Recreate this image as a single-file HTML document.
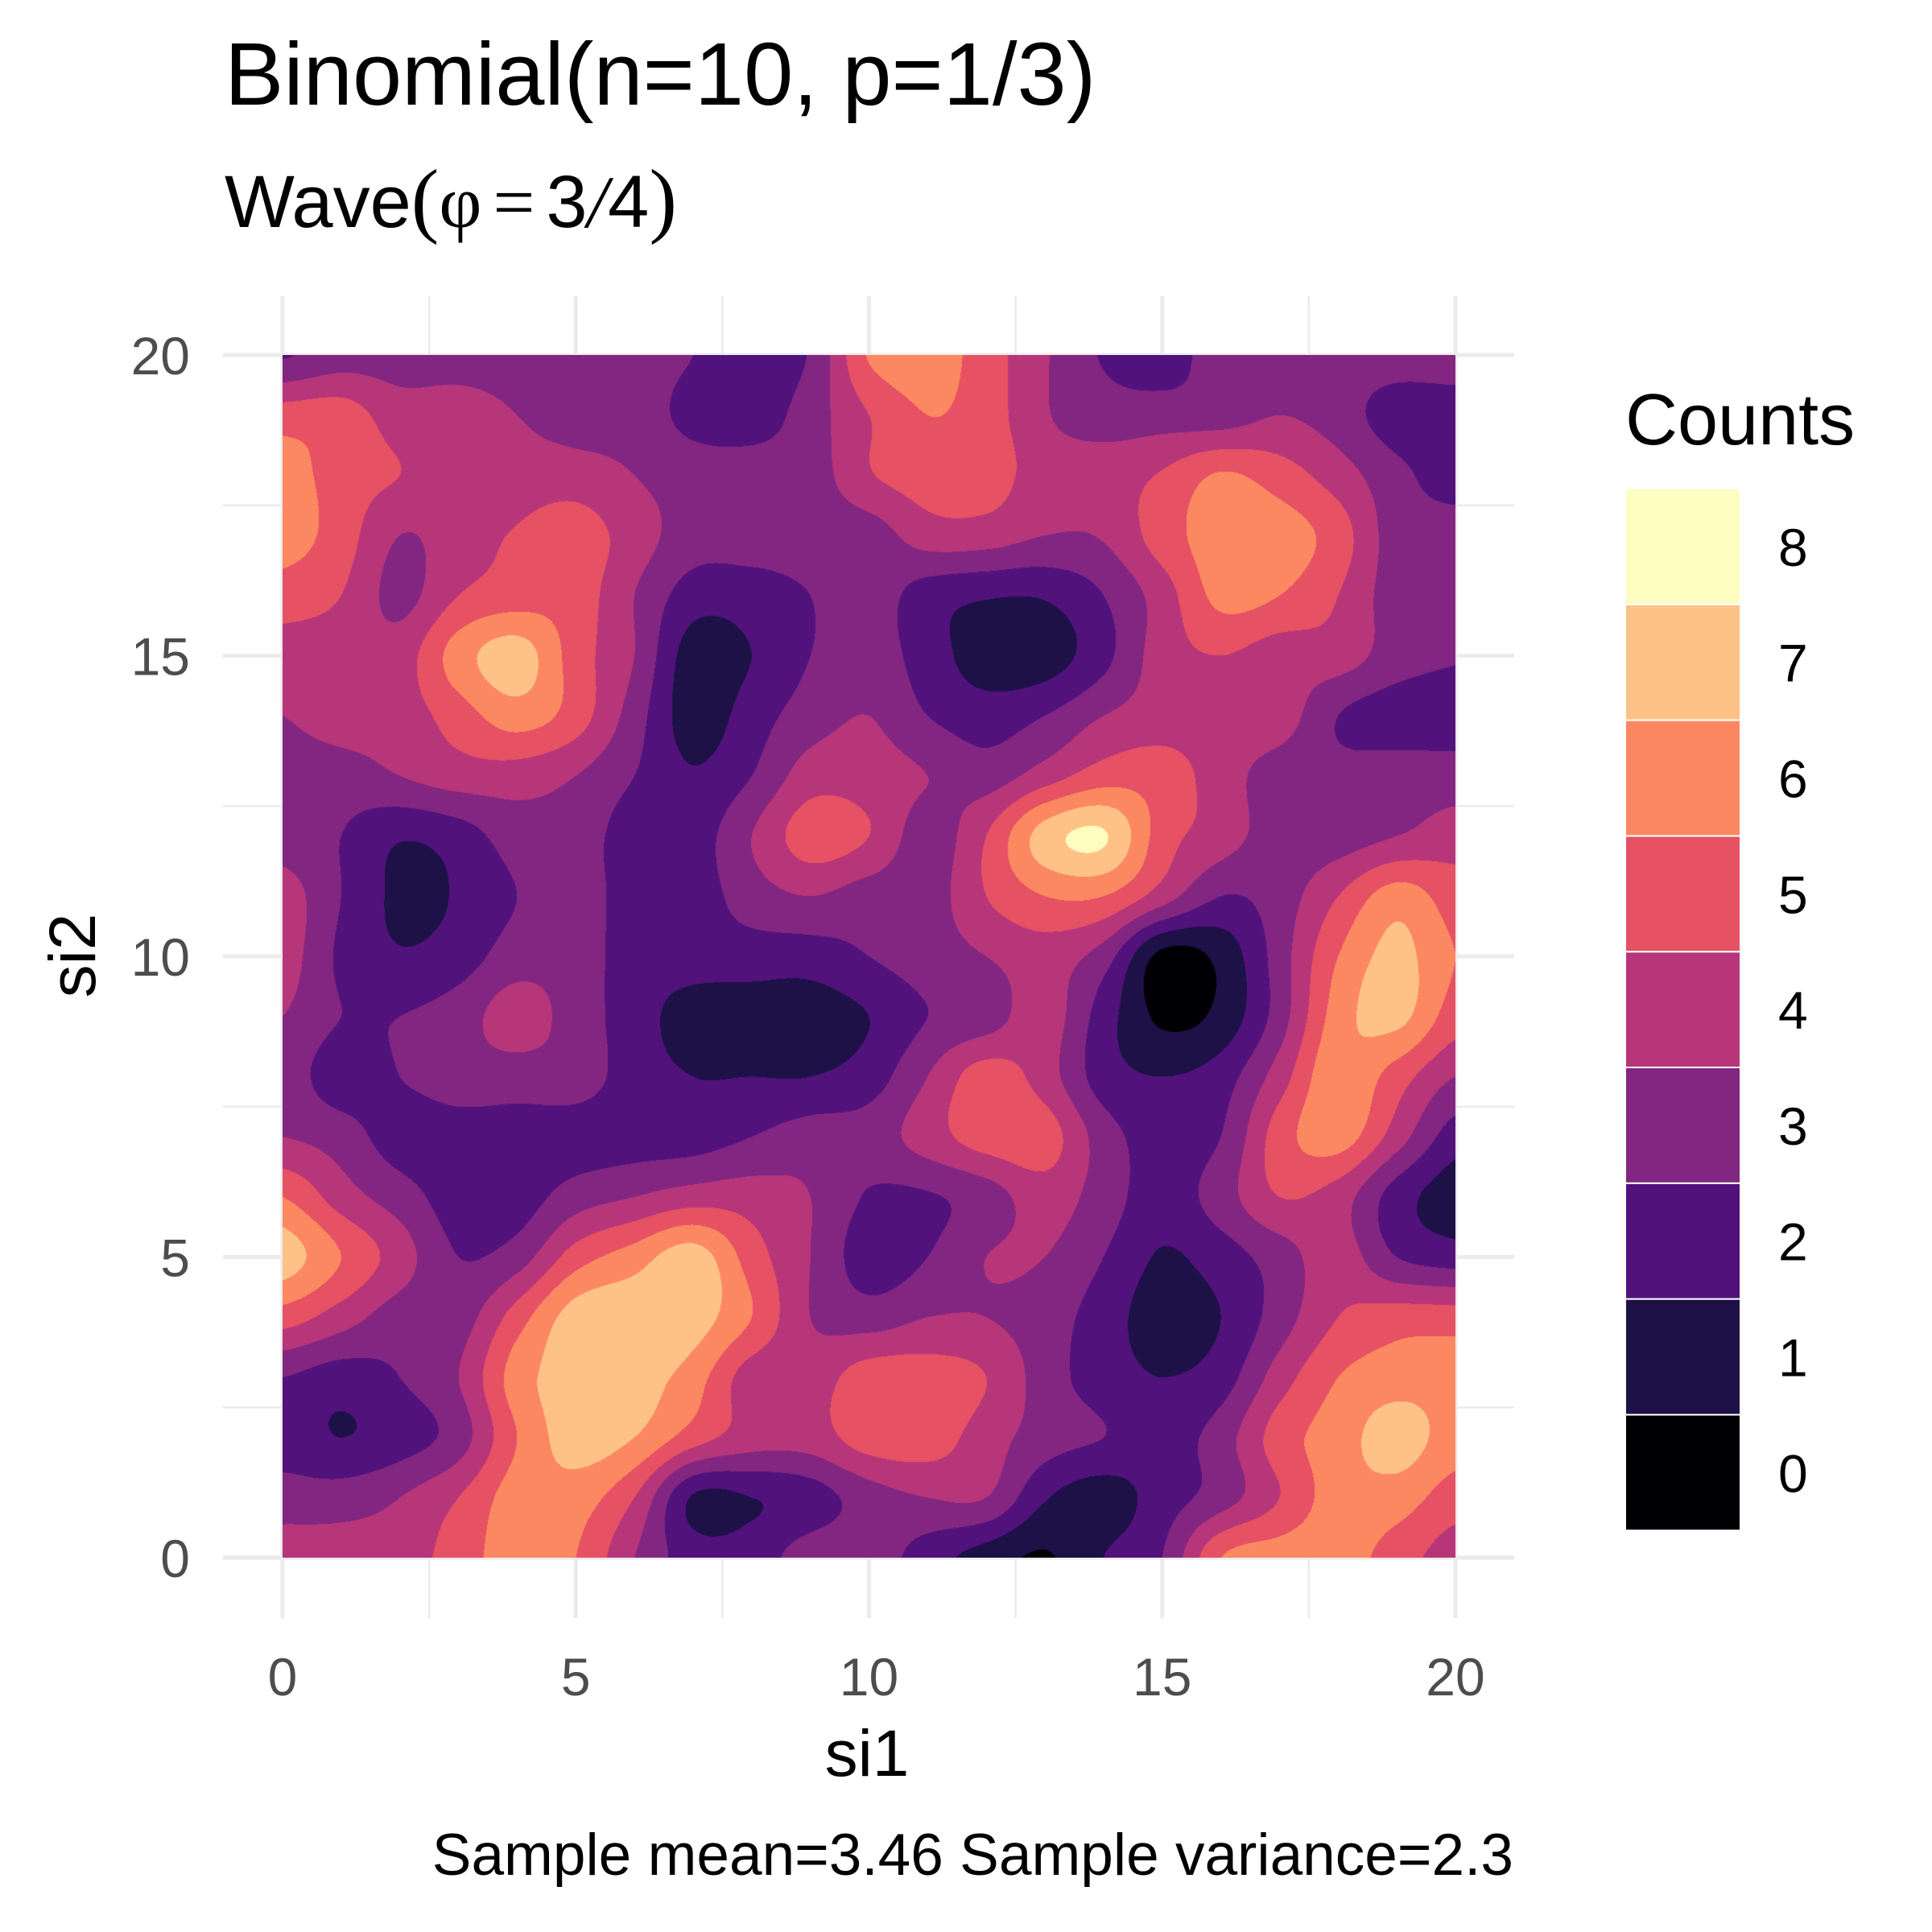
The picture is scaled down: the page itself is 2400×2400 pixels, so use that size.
<!DOCTYPE html>
<html><head><meta charset="utf-8"><style>
html,body{margin:0;padding:0;background:#fff;}
#wrap{position:relative;width:2400px;height:2400px;overflow:hidden;}
svg{position:absolute;left:0;top:0;}
#field{position:absolute;left:351px;top:441px;}
text{font-family:"Liberation Sans",sans-serif;}
</style></head><body>
<div id="wrap">
<svg id="bg" width="2400" height="2400"></svg>
<canvas id="field" width="1457" height="1494"></canvas>
<svg id="fg" width="2400" height="2400">
<text x="279" y="130" font-size="110" fill="#000">Binomial(n=10, p=1/3)</text>
<text x="279" y="282" font-size="92" fill="#000">Wave<tspan font-family="Liberation Serif,serif" font-size="104">(</tspan><tspan font-family="Liberation Serif,serif">φ</tspan><tspan font-family="Liberation Serif,serif" dx="14">=</tspan><tspan dx="14">3</tspan><tspan font-family="Liberation Serif,serif" font-style="italic">/</tspan>4<tspan font-family="Liberation Serif,serif" font-size="104">)</tspan></text>
<text x="1077" y="2206" font-size="82" text-anchor="middle" fill="#000">si1</text>
<text transform="translate(118,1187) rotate(-90)" font-size="82" text-anchor="middle" fill="#000">si2</text>
<text x="1880" y="2329" font-size="73" text-anchor="end" fill="#000">Sample mean=3.46 Sample variance=2.3</text>
<text x="2019" y="552" font-size="90" fill="#000">Counts</text>
</svg>
</div>
<script>
const levels = [0,1,2,3,4,5,6,7,8];
const levelColors = ["#000004","#1d1147","#51127c","#822681","#b63679","#e65164","#fb8861","#fec287","#fcfdbf"];
const xTicks = [0,5,10,15,20];
const yTicks = [0,5,10,15,20];
// field values, rows from si2=20 (top) down to si2=0, columns si1=0..20
const row20=[2.4,3,3,3,3,3,3,2.5,2,2.6,5.6,6,5,3.6,2.4,2,3,3,3,3,3];
const row19=[5,5,4,4,3.5,3,3,2.2,2,3,4.5,5.5,5,3.6,3,3,3,3.5,3,2,2];
const row18=[6,5,4.5,4,4,4,3.5,3,3,3,4.4,5,5,4,4,4.6,5.6,5,4,2.8,2];
const row17=[6,5,3.5,4,4.6,5,4,3,3,3,3,4,4,3.5,3.6,5,6,6,5,3,3];
const row16=[5,4.5,3.2,4.5,5,5,3.5,2,2,2.5,3,2,1.6,1.6,2.5,4,5.8,5.5,4.5,3,3];
const row15=[4,4,4,6,7,5,3.5,1,1.5,2.5,3,2,1,1,2.2,4,4.5,4,4,3,2.6];
const row14=[3.5,4,4,5,6,5,3,1,2,3,3.5,2.5,2,2.5,3.5,4,4,4,2.5,2,2];
const row13=[3,3,3.5,4,4,3.5,2.5,1.6,2.5,4,4,3.5,3,4,5,5,4,3,2.8,3,3];
const row12=[3,2.5,1.6,2,3,3,2,2,3.5,5,4.5,3,4.5,7,7.6,5,4,3,3,3.5,4];
const row11=[4,2.5,1.3,1.6,2.5,3,2,2,3,3.5,3,3,4.5,5.5,5.5,4,2.5,3,4.5,6,5];
const row10=[4,2.3,1.6,2,3,3,2,2,2,2,2.5,3,3.5,4,3,0.2,0.8,3,5.5,6.8,5.5];
const row9=[3.5,2.5,2.5,3,4,3,2,1,1,1,1.5,2.5,3,4,2,0.3,0.8,3,6,6.8,5];
const row8=[3,2,2.5,3,3,3,2,1.5,1.5,1.5,2,3.5,5,4,2,1.5,2,4,6.3,5,3.5];
const row7=[3.5,3,2,2,2,2,2,2,2.5,3,3,4,5,5,3,2,2.5,5,6,4,2];
const row6=[5.5,4,3,2,2,3,3.5,4,4,3.5,2.4,2.4,3,4,3,2,3,4.5,4,2,1];
const row5=[7,5.5,4,2.5,3,5,6,7,5,3.5,2,2.5,3.5,3.5,2.5,1.4,2,3,4,2.5,2];
const row4=[5,4,3,3,5,7,7.2,7,5.5,3.5,3,3.5,3.5,3,2,1,1.5,3,4.5,5,5];
const row3=[2.5,2,2.5,3.5,6,7,7,6,4,4,5,5,4.5,3,2,1.5,2,4,5.5,6,6];
const row2=[2,1.5,2,3,5.5,7,6.5,5,4,4,5,5,4,3,2.5,2,3,5,6,7,6];
const row1=[3,3,3.5,4.5,6,6,4.5,1.4,1.5,2,3,3.5,3.5,1.6,1,2,3,4.5,6,6,5];
const row0=[4,4,4,5,6,5.5,3.5,2,2,3,3,2,1,0.4,1.5,2.5,5.5,6,6,5,4];

const grid=[row0,row1,row2,row3,row4,row5,row6,row7,row8,row9,row10,row11,row12,row13,row14,row15,row16,row17,row18,row19,row20];
const NS="http://www.w3.org/2000/svg";
const X0=351,X1=1808,Y0=1935,Y1=441;
const sx=v=>X0+(X1-X0)*v/20, sy=v=>Y0-(Y0-Y1)*v/20;
const bg=document.getElementById('bg'), fg=document.getElementById('fg');
function mk(p,tag,attrs){const e=document.createElementNS(NS,tag);for(const k in attrs)e.setAttribute(k,attrs[k]);p.appendChild(e);return e;}
for(let v=0;v<=20;v+=2.5){
  const major=(v%5===0);
  const lx=mk(bg,'line',{x1:sx(v),x2:sx(v),y1:368,y2:2010,stroke:'#ebebeb','stroke-width':major?5:2.5});
  
  
  const ly=mk(bg,'line',{y1:sy(v),y2:sy(v),x1:277,x2:1881,stroke:'#ebebeb','stroke-width':major?5:2.5});
  
  
}
xTicks.forEach(t=>{const e=mk(fg,'text',{x:sx(t),y:2106,'font-size':66,'text-anchor':'middle',fill:'#4d4d4d'});e.textContent=t;
  
  });
yTicks.forEach(t=>{const e=mk(fg,'text',{x:236,y:sy(t)+24,'font-size':66,'text-anchor':'end',fill:'#4d4d4d'});e.textContent=t;
  
  });
const LB0=607,LBH=143.8;
levels.forEach((lv,k)=>{
  const y=LB0+(levels.length-1-k)*LBH;
  const r=mk(fg,'rect',{x:2019,y:y,width:143,height:LBH,fill:levelColors[k],stroke:'#fff','stroke-width':2});
  
  
  const t=mk(fg,'text',{x:2209,y:y+LBH/2+24,'font-size':66,fill:'#000'});t.textContent=lv;
  
  
});
const cv=document.getElementById('field'),ctx=cv.getContext('2d');
const W=cv.width,H=cv.height,img=ctx.createImageData(W,H);
const rgb=levelColors.map(c=>[parseInt(c.substr(1,2),16),parseInt(c.substr(3,2),16),parseInt(c.substr(5,2),16)]);
function g(i,j){i=Math.max(0,Math.min(20,i));j=Math.max(0,Math.min(20,j));return grid[j][i];}
function cr(p0,p1,p2,p3,t){return p1+0.5*t*(p2-p0+t*(2*p0-5*p1+4*p2-p3+t*(3*(p1-p2)+p3-p0)));}
for(let py=0;py<H;py++){
  const v=(1-(py+0.5)/H)*20, j=Math.min(19,Math.floor(v)), tv=v-j;
  for(let px=0;px<W;px++){
    const u=(px+0.5)/W*20, i=Math.min(19,Math.floor(u)), tu=u-i;
    const rows=[];
    for(let m=-1;m<=2;m++) rows.push(cr(g(i-1,j+m),g(i,j+m),g(i+1,j+m),g(i+2,j+m),tu));
    const val=cr(rows[0],rows[1],rows[2],rows[3],tv);
    const k=Math.max(0,Math.min(8,Math.round(val)));
    const o=(py*W+px)*4, c=rgb[k];
    img.data[o]=c[0];img.data[o+1]=c[1];img.data[o+2]=c[2];img.data[o+3]=255;
  }
}
ctx.putImageData(img,0,0);
</script>
</body></html>
